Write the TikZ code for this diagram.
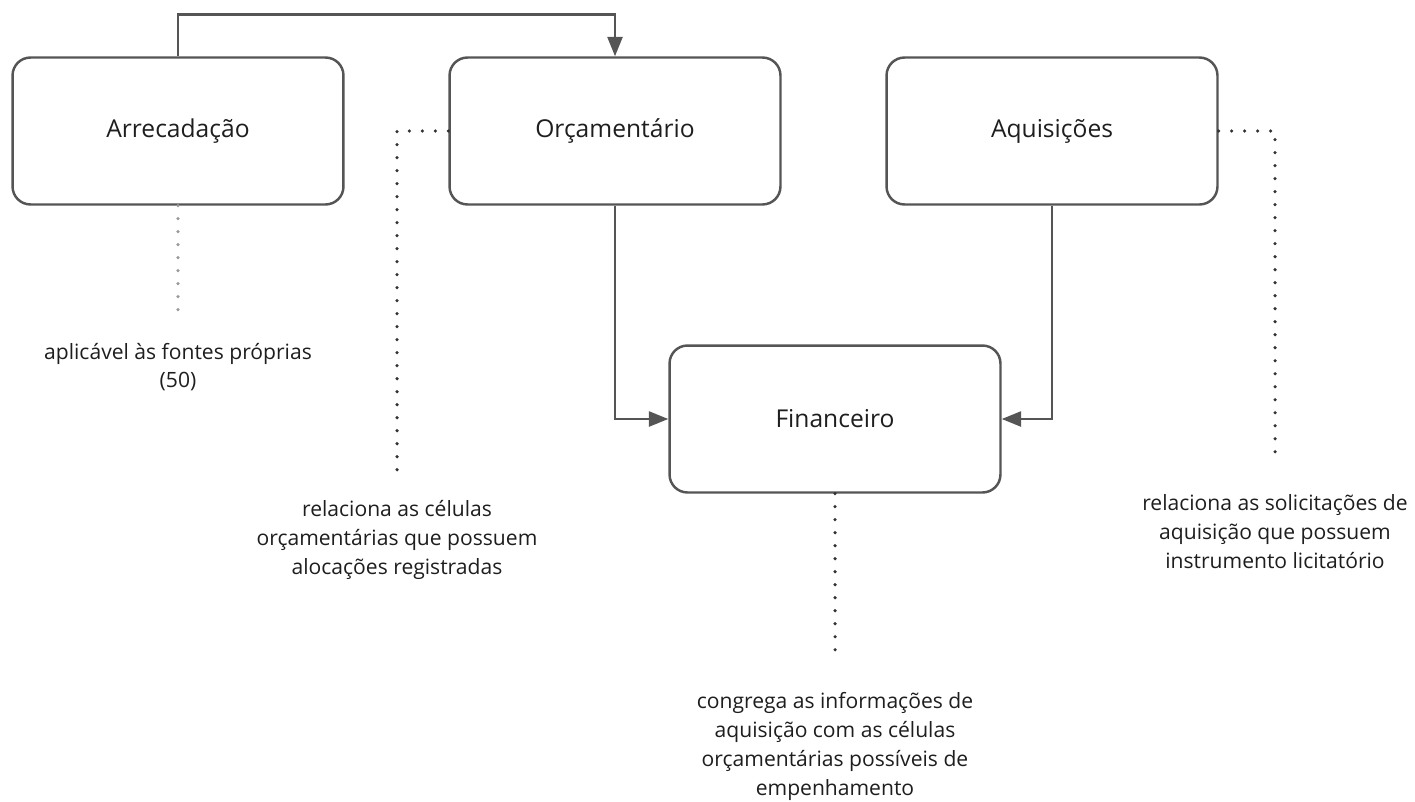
\documentclass[tikz,border=0pt]{standalone}
\usepackage{fontspec}
\setmainfont{Open Sans}
\usetikzlibrary{arrows.meta,positioning}

\definecolor{grigio}{HTML}{555555}
\definecolor{grigioscuro}{HTML}{333333}
\definecolor{grigiochiaro}{HTML}{999999}
\definecolor{testo}{HTML}{1E1E1E}

\tikzset{
  modulo/.style={draw=grigio, line width=1.4pt, rounded corners=0.36cm,
    minimum width=6.62cm, minimum height=2.94cm, text=testo,
    font=\fontsize{14}{17}\selectfont},
  nota/.style={align=center, text=testo, inner sep=0pt,
    font=\fontsize{12}{16.5}\selectfont},
  seta/.style={draw=grigio, line width=1.4pt, -{Triangle[length=11pt,width=8.5pt]}},
  punti/.style={draw=#1, line width=2pt, line cap=round, dash pattern=on 0pt off 7.4pt},
}

\begin{document}
\begin{tikzpicture}[x=0.02cm,y=-0.02cm]

        \useasboundingbox (0,0) rectangle (1415,801);

        % Disegna i moduli
        \node[modulo] (arr) at (178,131) {Arrecadação};
        \node[modulo] (orc) at (615,131) {Orçamentário};
        \node[modulo] (aqu) at (1052,131) {Aquisições};
        \node[modulo] (fin) at (835,419) {Financeiro};

        % Disegna le frecce tra i moduli
        \draw[seta] (arr.north) -- ++(0,-42) -| (orc.north);
        \draw[seta] (orc.south) |- (fin.west);
        \draw[seta] (aqu.south) |- (fin.east);

        % Fine delle linee puntinate
        \coordinate (pArr) at (178,315);
        \coordinate (pOrc) at (397,470);
        \coordinate (pAqu) at (1275,463);
        \coordinate (pFin) at (835,658);

        % Disegna le linee puntinate
        \draw[punti=grigiochiaro] (arr.south) -- (pArr);
        \draw[punti=grigioscuro] (orc.west) -| (pOrc);
        \draw[punti=grigioscuro] (aqu.east) -| (pAqu);
        \draw[punti=grigioscuro] (fin.south) -- (pFin);

        % Scrive le note
        \node[nota, below=0.55cm of pArr] (nArr) {aplicável às fontes próprias\\(50)};
        \node[nota, below=0.6cm of pOrc] (nOrc) {relaciona as células\\orçamentárias que possuem\\alocações registradas};
        \node[nota, below=0.62cm of pAqu] (nAqu) {relaciona as solicitações de\\aquisição que possuem\\instrumento licitatório};
        \node[nota, below=0.68cm of pFin] (nFin) {congrega as informações de\\aquisição com as células\\orçamentárias possíveis de\\empenhamento};

\end{tikzpicture}
\end{document}
